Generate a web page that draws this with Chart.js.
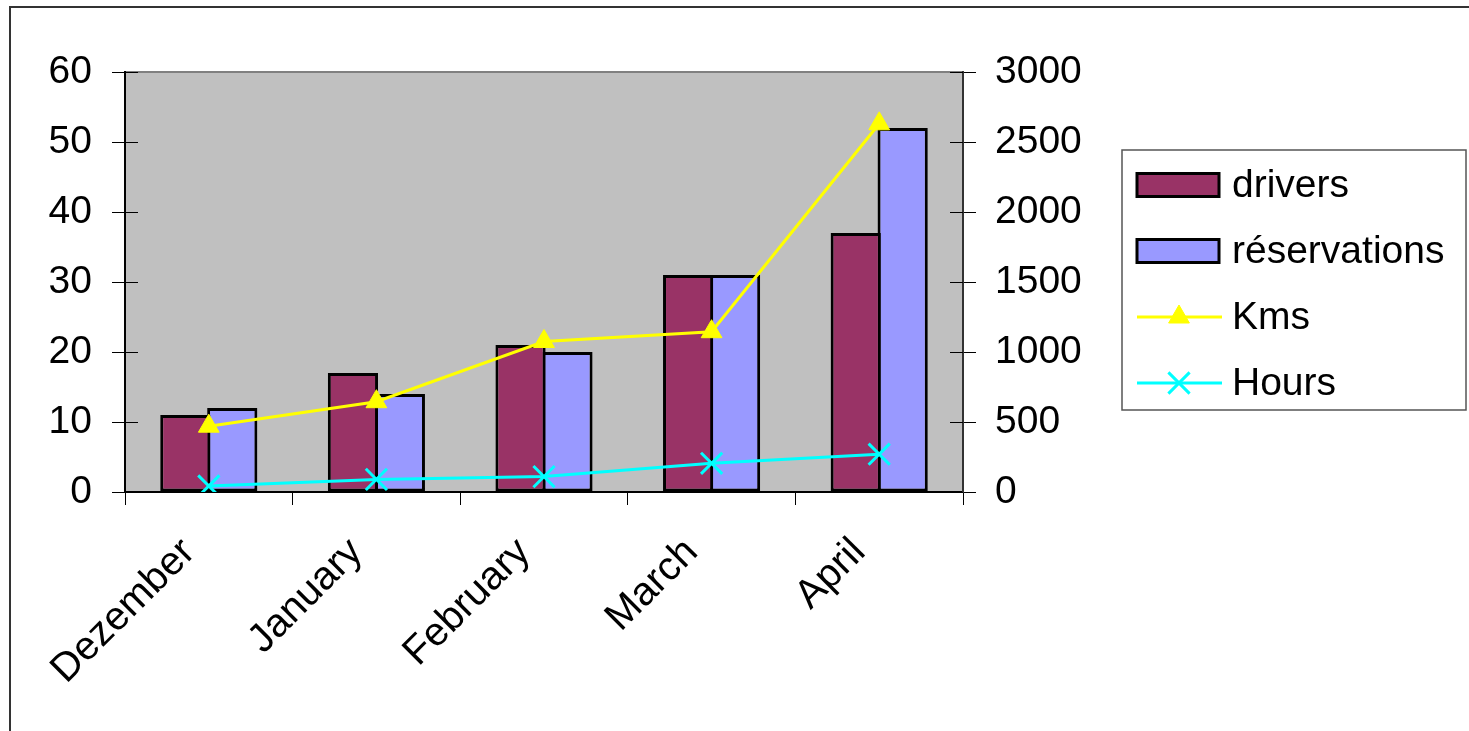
<!DOCTYPE html>
<html>
<head>
<meta charset="utf-8">
<script src="https://cdn.jsdelivr.net/npm/chart.js@4.4.1/dist/chart.umd.min.js"></script>
<style>
    html, body { margin: 0; padding: 0; background: #fff; overflow: hidden; }
    #wrap { position: relative; width: 1469px; height: 731px; }
</style>
</head>
<body>
<div id="wrap"><canvas id="chart"></canvas></div>
<script>
// ----------------------------------------------------
// DATA
// ----------------------------------------------------
const months = ["Dezember", "January", "February", "March", "April"];
const drivers = [11, 17, 21, 31, 37];
const reservations = [12, 14, 20, 31, 52];
const kms = [470, 645, 1075, 1145, 2630];
const hours = [43, 90, 110, 205, 270];

const leftTicks = [0, 10, 20, 30, 40, 50, 60];
const rightTicks = [0, 500, 1000, 1500, 2000, 2500, 3000];

const FONT = "'Liberation Sans', Arial, sans-serif";

// ----------------------------------------------------
// PLUGINS
// ----------------------------------------------------

// grey plot background + outer frame
const plotBackground = {
    id: "plotBackground",
    beforeDraw(chart) {
        const { ctx, chartArea: a } = chart;
        ctx.save();
        ctx.fillStyle = "#C0C0C0";
        ctx.fillRect(a.left, a.top, a.right - a.left, a.bottom - a.top);

        ctx.strokeStyle = "#808080";
        ctx.lineWidth = 2;
        ctx.beginPath();
        ctx.moveTo(a.left, a.top);
        ctx.lineTo(a.right, a.top);
        ctx.stroke();

        // outer frame (runs off right/bottom of the page)
        ctx.strokeStyle = "#333";
        ctx.lineWidth = 2;
        ctx.strokeRect(10, 7, 1600, 900);
        ctx.restore();
    }
};

// tick stubs that cross into the plot area
const innerTicks = {
    id: "innerTicks",
    afterDatasetsDraw(chart) {
        const { ctx, chartArea: a, scales } = chart;
        const len = 13;
        ctx.save();
        ctx.strokeStyle = "#000";
        ctx.lineWidth = 1;
        ctx.beginPath();
        scales.y.ticks.forEach((t, i) => {
            const y = Math.round(scales.y.getPixelForTick(i)) + 0.5;
            ctx.moveTo(a.left, y);
            ctx.lineTo(a.left + len, y);
        });
        scales.y2.ticks.forEach((t, i) => {
            const y = Math.round(scales.y2.getPixelForTick(i)) + 0.5;
            ctx.moveTo(a.right, y);
            ctx.lineTo(a.right - len, y);
        });
        ctx.stroke();
        ctx.restore();
    }
};

// boxed legend on the right
const boxLegend = {
    id: "boxLegend",
    afterDraw(chart) {
        const { ctx } = chart;
        const box = { x: 1122, y: 150, w: 344, h: 260 };
        const rows = [185, 251, 317, 383];
        const swX = 1137, swW = 82, swH = 23;
        const textX = 1232;

        ctx.save();
        ctx.strokeStyle = "#555";
        ctx.lineWidth = 1.5;
        ctx.strokeRect(box.x, box.y, box.w, box.h);

        ctx.font = "39px " + FONT;
        ctx.textBaseline = "middle";
        ctx.textAlign = "left";

        chart.data.datasets.forEach((ds, i) => {
            const cy = rows[i];
            if (ds.type === "line") {
                ctx.strokeStyle = ds.borderColor;
                ctx.lineWidth = ds.borderWidth;
                ctx.beginPath();
                ctx.moveTo(swX, cy);
                ctx.lineTo(swX + 85, cy);
                ctx.stroke();
                ctx.fillStyle = ds.pointBackgroundColor;
                ctx.strokeStyle = ds.pointBorderColor;
                ctx.lineWidth = ds.pointBorderWidth;
                Chart.helpers.drawPoint(ctx, {
                    pointStyle: ds.pointStyle,
                    radius: ds.pointRadius,
                    rotation: 0,
                    borderWidth: ds.pointBorderWidth
                }, swX + 42, cy);
            } else {
                ctx.fillStyle = ds.backgroundColor;
                ctx.fillRect(swX, cy - swH / 2, swW, swH);
                ctx.strokeStyle = "#000";
                ctx.lineWidth = 3;
                ctx.strokeRect(swX, cy - swH / 2, swW, swH);
            }
            ctx.fillStyle = "#000";
            ctx.fillText(ds.label, textX, cy + 1);
        });
        ctx.restore();
    }
};

// ----------------------------------------------------
// CHART
// ----------------------------------------------------
new Chart(document.getElementById("chart"), {
    data: {
        labels: months,
        datasets: [
            {
                type: "bar",
                label: "drivers",
                data: drivers,
                backgroundColor: "#993366",
                borderColor: "#000",
                borderWidth: 3,
                borderSkipped: false,
                yAxisID: "y",
                order: 2,
                categoryPercentage: 0.56,
                barPercentage: 1.07
            },
            {
                type: "bar",
                label: "réservations",
                data: reservations,
                backgroundColor: "#9999FF",
                borderColor: "#000",
                borderWidth: 3,
                borderSkipped: false,
                yAxisID: "y",
                order: 2,
                categoryPercentage: 0.56,
                barPercentage: 1.07
            },
            {
                type: "line",
                label: "Kms",
                data: kms,
                borderColor: "#FFFF00",
                borderWidth: 3,
                tension: 0,
                pointStyle: "triangle",
                pointRadius: 12,
                pointBackgroundColor: "#FFFF00",
                pointBorderColor: "#FFFF00",
                pointBorderWidth: 1,
                yAxisID: "y2",
                order: 1
            },
            {
                type: "line",
                label: "Hours",
                data: hours,
                borderColor: "#00FFFF",
                borderWidth: 3,
                tension: 0,
                pointStyle: "crossRot",
                pointRadius: 15,
                pointBackgroundColor: "#00FFFF",
                pointBorderColor: "#00FFFF",
                pointBorderWidth: 3,
                yAxisID: "y2",
                order: 0
            }
        ]
    },
    options: {
        responsive: true,
        maintainAspectRatio: false,
        animation: false,
        layout: { padding: { left: 10, top: 72, right: 0, bottom: 0 } },
        plugins: {
            legend: { display: false },
            tooltip: { enabled: false }
        },
        scales: {
            x: {
                offset: true,
                grid: { offset: true, drawOnChartArea: false, drawTicks: true, tickLength: 13, color: "#000" },
                border: { color: "#000", width: 2 },
                ticks: {
                    font: { family: FONT, size: 40 },
                    color: "#000",
                    minRotation: 45,
                    maxRotation: 45,
                    autoSkip: false,
                    padding: 24,
                    labelOffset: -20
                },
                afterFit(scale) { scale.height = 239; }
            },
            y: {
                position: "left",
                min: 0,
                max: 60,
                afterBuildTicks(scale) { scale.ticks = leftTicks.map(v => ({ value: v })); },
                grid: { drawOnChartArea: false, tickLength: 13, color: "#000" },
                border: { color: "#000", width: 2 },
                ticks: { font: { family: FONT, size: 39 }, color: "#000", padding: 20, callback: v => String(v) },
                afterFit(scale) { scale.width = 115; }
            },
            y2: {
                position: "right",
                min: 0,
                max: 3000,
                afterBuildTicks(scale) { scale.ticks = rightTicks.map(v => ({ value: v })); },
                grid: { drawOnChartArea: false, tickLength: 13, color: "#000" },
                border: { color: "#333", width: 2 },
                ticks: { font: { family: FONT, size: 39 }, color: "#000", padding: 19, callback: v => String(v) },
                afterFit(scale) { scale.width = 506; }
            }
        }
    },
    plugins: [plotBackground, innerTicks, boxLegend]
});
</script>
</body>
</html>
